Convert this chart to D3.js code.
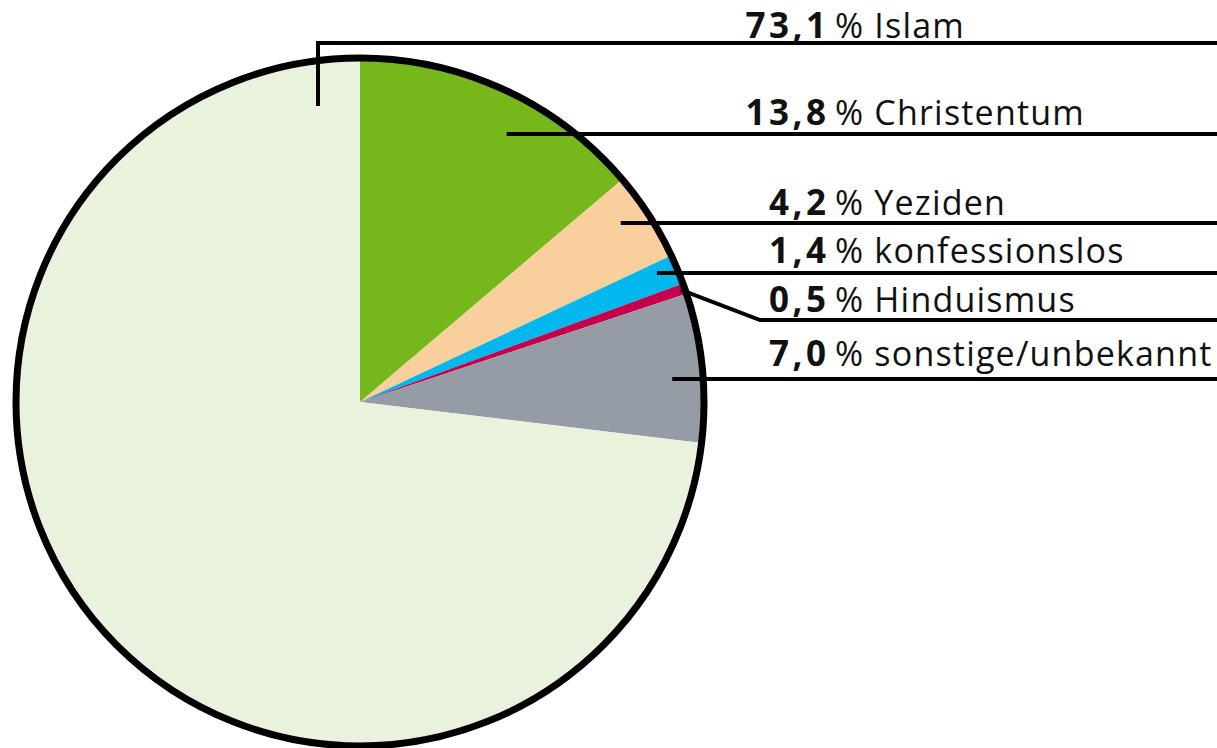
<!DOCTYPE html>
<html>
<head>
<meta charset="utf-8">
<script src="https://cdn.jsdelivr.net/npm/d3@7"></script>
<style>
  html, body { margin: 0; padding: 0; background: #fff; }
  svg { display: block; }
  text { font-family: "Open Sans", sans-serif; fill: #111; }
</style>
</head>
<body>
<svg id="chart" width="1217" height="748"></svg>
<script>
// data, in drawing order (clockwise from 12 o'clock)
var religions = ['Christentum', 'Yeziden', 'konfessionslos', 'Hinduismus', 'sonstige/unbekannt', 'Islam']
var shares = [13.8, 4.2, 1.4, 0.5, 7.0, 73.1]
var shareLabels = ['13,8', '4,2', '1,4', '0,5', '7,0', '73,1']
var colors = ['#76b71b', '#f8cf9d', '#00b8ed', '#c4004c', '#969ca6', '#e9f2dc']

// label order from top to bottom
var labelOrder = ['Islam', 'Christentum', 'Yeziden', 'konfessionslos', 'Hinduismus', 'sonstige/unbekannt']

var width = 1217, height = 748
var cx = 360, cy = 402, radius = 344

var svg = d3.select('#chart')

var pie = d3.pie().sort(null).value(function(d) { return d })
var arcs = pie(shares)

var arc = d3.arc().innerRadius(0).outerRadius(radius)

var g = svg.append('g').attr('transform', 'translate(' + cx + ',' + cy + ')')

g.selectAll('path.slice')
  .data(arcs)
  .enter().append('path')
    .attr('class', 'slice')
    .attr('d', arc)
    .attr('fill', function(d, i) { return colors[i] })

g.append('circle')
  .attr('r', radius)
  .attr('fill', 'none')
  .attr('stroke', '#000')
  .attr('stroke-width', 7)

// where each label row sits (leader line y, text baseline),
// and how far the leader reaches into the pie from its rim
var lineY = { 'Islam': 43, 'Christentum': 134, 'Yeziden': 223, 'konfessionslos': 273, 'Hinduismus': 320, 'sonstige/unbekannt': 379 }
var baseY = { 'Islam': 37.5, 'Christentum': 125, 'Yeziden': 215, 'konfessionslos': 263, 'Hinduismus': 312, 'sonstige/unbekannt': 366 }
var inset = { 'Christentum': 69, 'Yeziden': 33, 'konfessionslos': 22, 'sonstige/unbekannt': 31 }

// letter-spacing leaves a trailing gap, so the number anchor sits a bit right
var numX = 829.5, textX = 835

labelOrder.forEach(function(name) {
  var i = religions.indexOf(name)
  var y = lineY[name]
  var pts

  if (name === 'Islam') {
    // short tick down into the Islam slice just left of 12 o'clock
    var ax = cx - 42
    pts = [[ax, 106], [ax, y], [width, y]]
  } else if (name === 'Hinduismus') {
    var mid = (arcs[i].startAngle + arcs[i].endAngle) / 2
    var r = radius - 4
    var px = cx + r * Math.sin(mid), py = cy - r * Math.cos(mid)
    pts = [[px, py], [760, y], [width, y]]
  } else {
    var edge = cx + Math.sqrt(radius * radius - (cy - y) * (cy - y))
    pts = [[edge - inset[name], y], [width, y]]
  }

  svg.append('path')
    .attr('d', d3.line()(pts))
    .attr('fill', 'none')
    .attr('stroke', '#000')
    .attr('stroke-width', 4)

  svg.append('text')
    .attr('x', numX)
    .attr('y', baseY[name])
    .attr('text-anchor', 'end')
    .style('font-size', '35px')
    .style('font-weight', 'bold')
    .style('letter-spacing', '3.5px')
    .text(shareLabels[i])

  svg.append('text')
    .attr('x', textX)
    .attr('y', baseY[name])
    .style('font-size', '34px')
    .style('letter-spacing', '1.2px')
    .text('% ' + name)
})
</script>
</body>
</html>
